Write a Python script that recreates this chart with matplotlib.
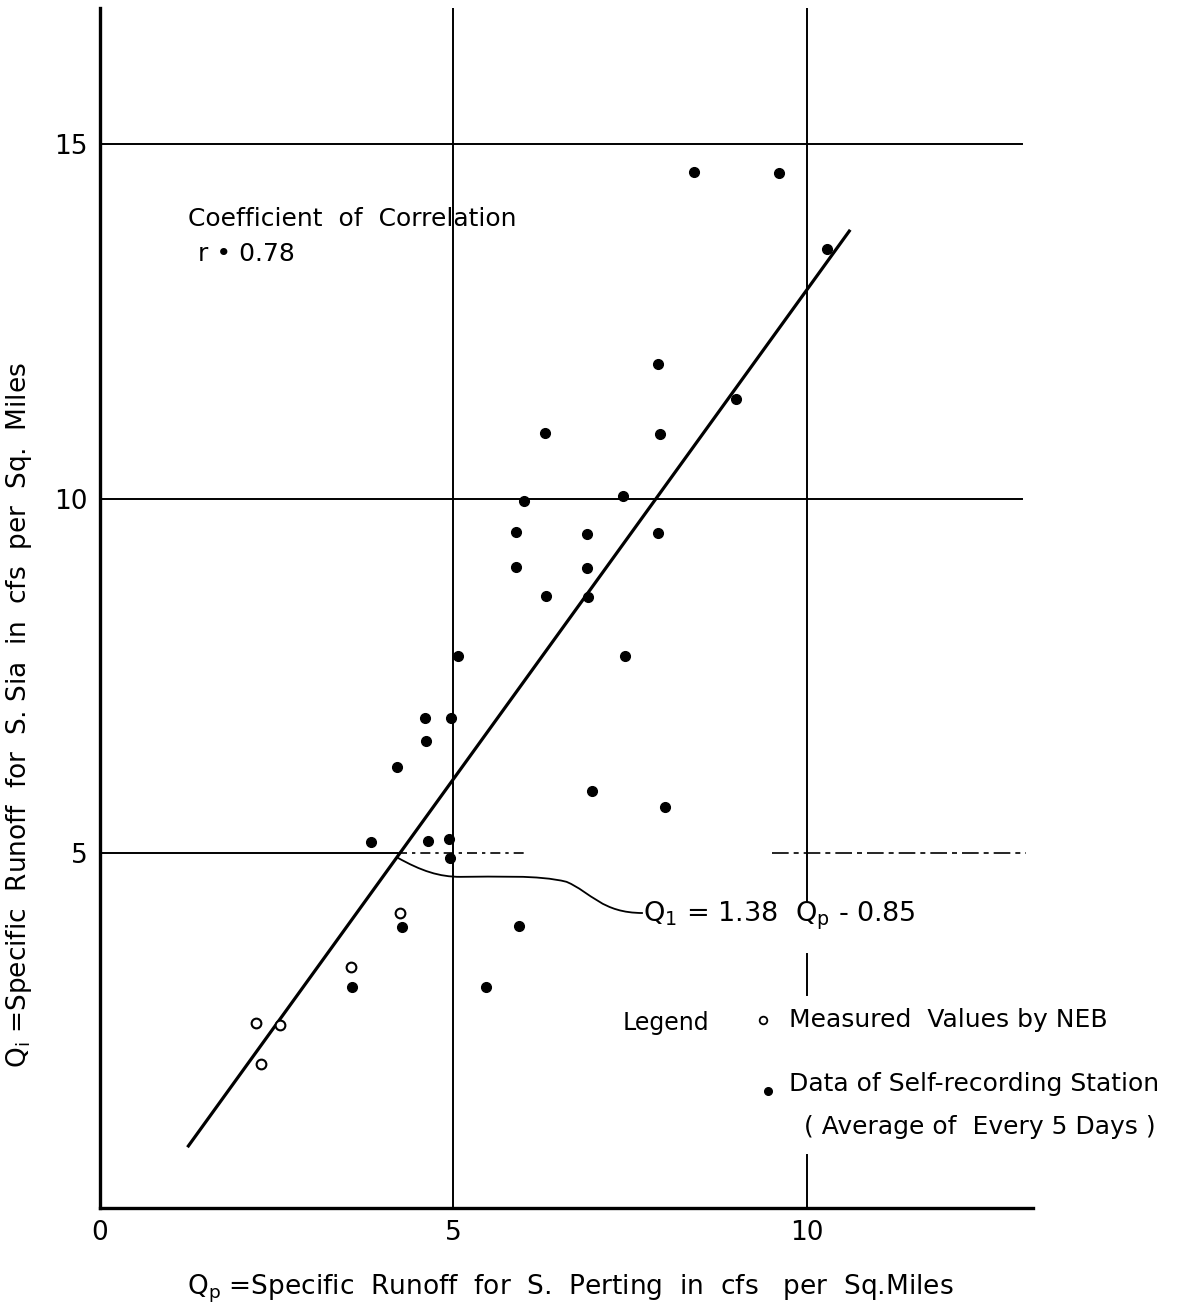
import numpy as np
import matplotlib
matplotlib.use("Agg")
import matplotlib.pyplot as plt
from matplotlib.path import Path
from matplotlib.patches import PathPatch

# data (cfs per sq. mile)
qp_station = [8.40, 9.60, 10.28, 7.89, 9.00, 6.29, 7.92, 6.00, 7.40, 5.88, 6.89,
              7.89, 5.88, 6.89, 6.31, 6.90, 5.06, 7.43, 4.60, 4.96, 4.61, 4.20,
              6.96, 7.99, 3.83, 4.64, 4.94, 4.95, 4.27, 5.93, 3.56, 5.46]
qi_station = [14.61, 14.60, 13.53, 11.90, 11.41, 10.93, 10.92, 9.97, 10.04, 9.53, 9.51,
              9.52, 9.04, 9.03, 8.63, 8.62, 7.79, 7.79, 6.91, 6.91, 6.59, 6.22,
              5.88, 5.66, 5.16, 5.18, 5.20, 4.94, 3.96, 3.98, 3.12, 3.12]
qp_neb = [4.24, 3.55, 2.21, 2.55, 2.28]
qi_neb = [4.16, 3.40, 2.61, 2.58, 2.03]

slope, intercept = 1.38, -0.85
fit_range = [1.25, 10.6]
xticks = [0, 5, 10]
yticks = [5, 10, 15]

plt.rcParams['font.family'] = ['DejaVu Sans']

fig = plt.figure(figsize=(11.84, 13.15), dpi=100)
ax = fig.add_axes([0.0845, 0.0814, 0.788, 0.9128])
ax.set_xlim(0, 13.2)
ax.set_ylim(0, 16.93)

for s in ['top', 'right']:
    ax.spines[s].set_visible(False)
for s in ['left', 'bottom']:
    ax.spines[s].set_linewidth(2.4)

ax.set_xticks(xticks)
ax.set_yticks(yticks)
ax.tick_params(length=0, labelsize=19, pad=9)

# grid lines (hand-drawn style, with gaps)
gkw = dict(color='black', lw=1.4)
ax.plot([0, 13.04], [15, 15], **gkw)
ax.plot([0, 13.04], [10, 10], **gkw)
ax.plot([0, 4.2], [5, 5], **gkw)
ax.plot([4.2, 6.0], [5, 5], color='black', lw=1.2, ls=(0, (6, 3, 2, 3)))
ax.plot([9.5, 13.1], [5, 5], color='black', lw=1.2, ls=(0, (10, 3, 3, 3)))
ax.plot([5, 5], [0, 16.93], **gkw)
ax.plot([10, 10], [4.32, 16.93], **gkw)
ax.plot([10, 10], [3.0, 3.58], **gkw)
ax.plot([10, 10], [0, 0.75], **gkw)

# regression line
fx = np.array(fit_range)
ax.plot(fx, slope * fx + intercept, color='black', lw=2.3)

# points
ax.plot(qp_station, qi_station, 'o', color='black', ms=7, ls='none')
ax.plot(qp_neb, qi_neb, 'o', mfc='white', mec='black', mew=1.5, ms=7, ls='none')

# leader from regression line to the equation
x0 = 4.2
y0 = slope * x0 + intercept
verts = [(x0, y0), (4.55, 4.75), (4.8, 4.67), (5.1, 4.67),
         (5.6, 4.67), (6.2, 4.7), (6.6, 4.6),
         (6.95, 4.45), (7.1, 4.16), (7.68, 4.16)]
codes = [Path.MOVETO, Path.CURVE4, Path.CURVE4, Path.CURVE4,
         Path.CURVE4, Path.CURVE4, Path.CURVE4,
         Path.CURVE4, Path.CURVE4, Path.CURVE4]
ax.add_patch(PathPatch(Path(verts, codes), fill=False, lw=1.3, color='black'))
ax.text(7.68, 4.12, r'$\mathregular{Q_1}$ = 1.38  $\mathregular{Q_p}$ - 0.85',
        fontsize=19.5, va='center', ha='left')

ax.text(1.24, 13.95, 'Coefficient  of  Correlation', fontsize=18, va='center')
ax.text(1.38, 13.45, 'r • 0.78', fontsize=18, va='center')

# legend block
ax.text(7.4, 2.61, 'Legend', fontsize=17, va='center')
ax.plot([9.38], [2.65], 'o', mfc='white', mec='black', mew=1.3, ms=5.5)
ax.text(9.75, 2.65, 'Measured  Values by NEB', fontsize=18, va='center')
ax.plot([9.45], [1.65], 'o', color='black', ms=5.5)
ax.text(9.75, 1.75, 'Data of Self-recording Station', fontsize=18, va='center')
ax.text(9.96, 1.14, '( Average of  Every 5 Days )', fontsize=18, va='center')

fig.text(0.482, 0.02, r'$\mathregular{Q_p}$ =Specific  Runoff  for  S.  Perting  in  cfs   per  Sq.Miles',
         fontsize=19, ha='center', va='center')
fig.text(0.016, 0.456, r'$\mathregular{Q_i}$ =Specific  Runoff  for  S. Sia  in  cfs  per  Sq.  Miles',
         fontsize=19, ha='center', va='center', rotation=90)

fig.savefig('out.png', dpi=100)
